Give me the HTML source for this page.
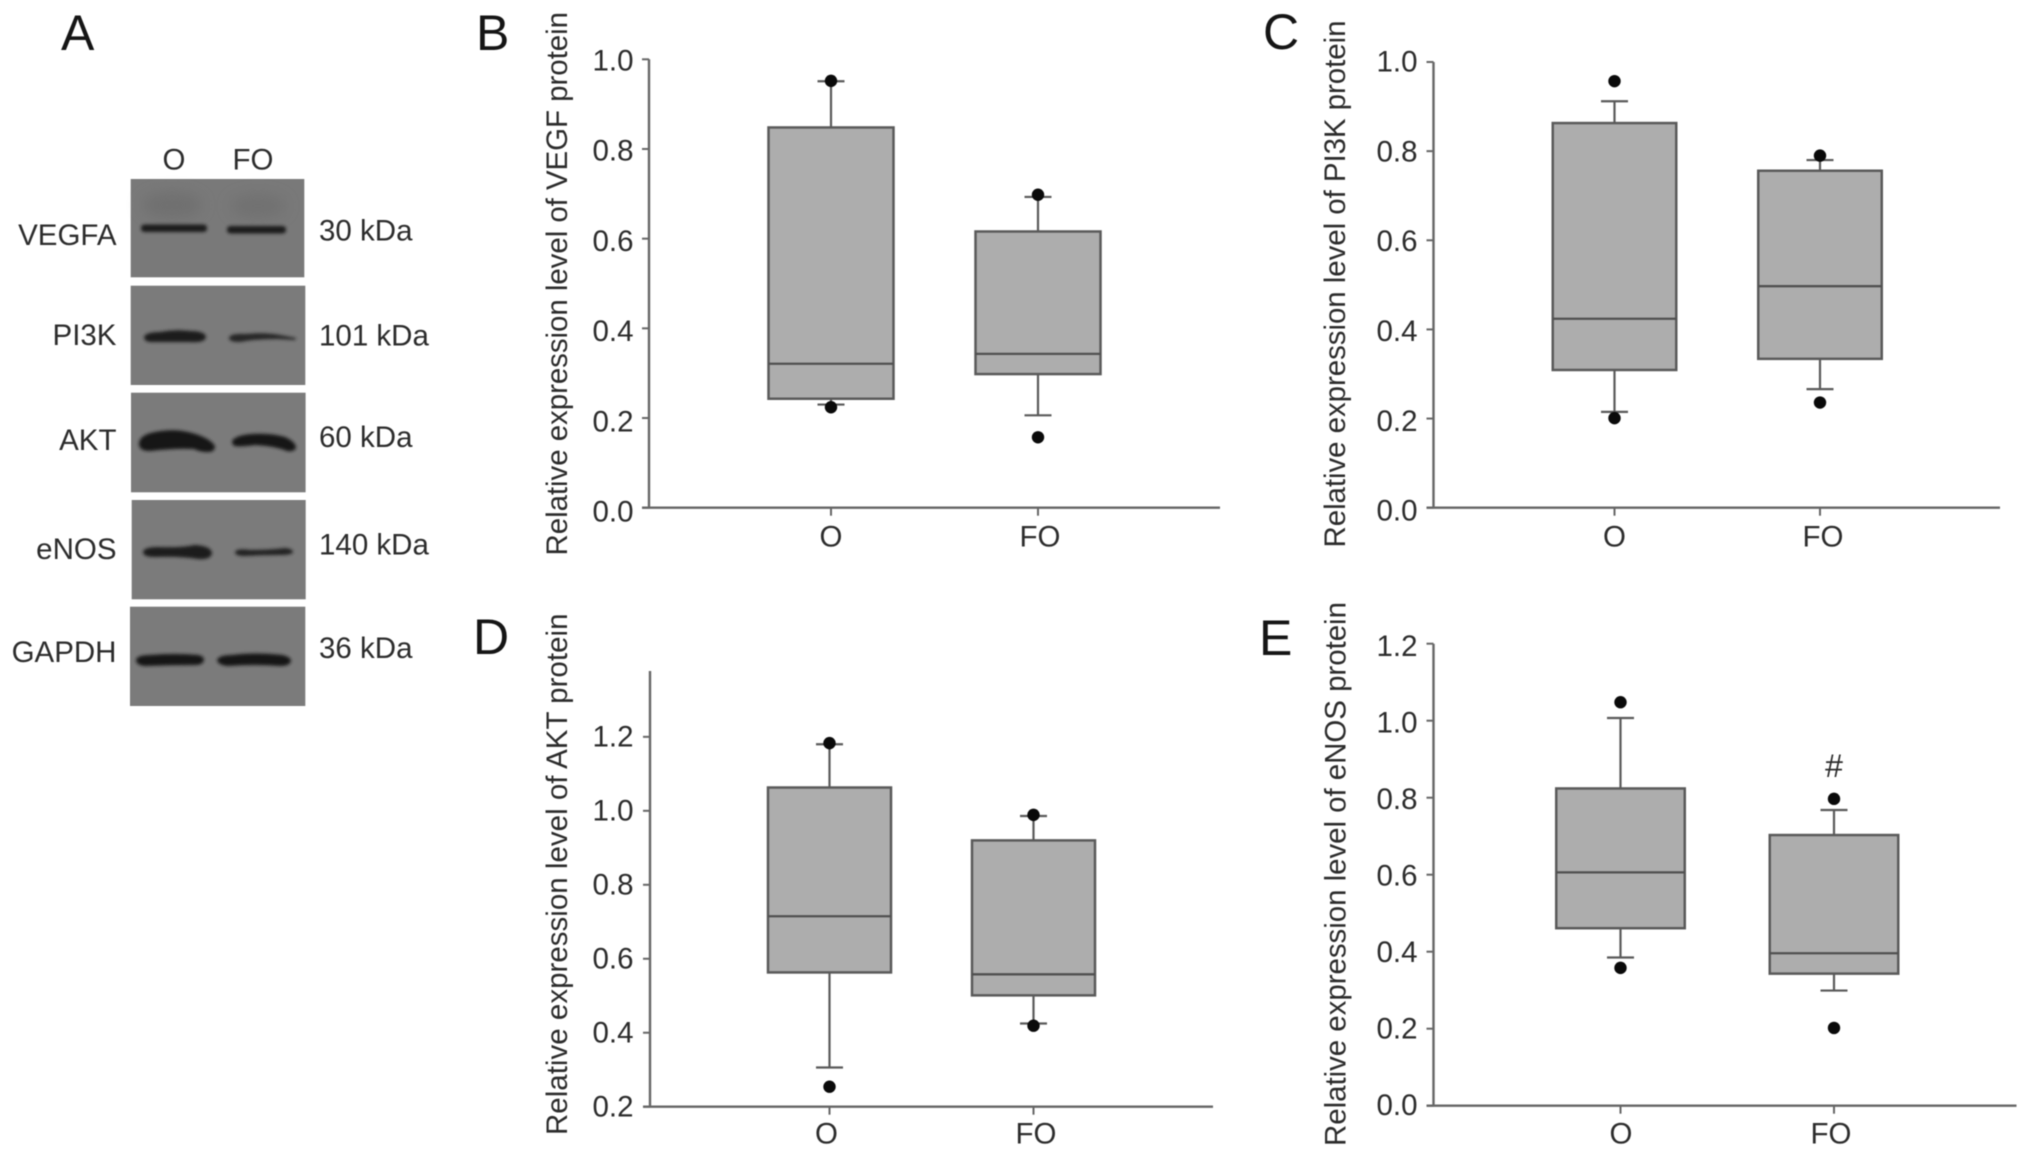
<!DOCTYPE html>
<html lang="en">
<head>
<meta charset="utf-8">
<title>Western blot and relative protein expression box plots</title>
<style>
  html, body { margin: 0; padding: 0; background: #ffffff; width: 2032px; height: 1158px; overflow: hidden; }
  svg { display: block; filter: blur(0.6px); }
  text { font-family: "Liberation Sans", sans-serif; fill: #2c2c2c; }
</style>
</head>
<body>
<svg id="figure" xmlns="http://www.w3.org/2000/svg" width="2032" height="1158" viewBox="0 0 2032 1158">
  <defs>
    <filter id="band-blur" x="-20%" y="-80%" width="140%" height="260%"><feGaussianBlur stdDeviation="1.6"/></filter>
    <filter id="smear-blur" x="-40%" y="-80%" width="180%" height="260%"><feGaussianBlur stdDeviation="7"/></filter>
  </defs>
  <rect x="0" y="0" width="2032" height="1158" fill="#ffffff"/>

  <g id="panel-a">
    <text x="61" y="50" font-size="50" style="fill:#151515">A</text>
    <text x="174" y="169.5" font-size="29.5" text-anchor="middle">O</text>
    <text x="253" y="169.5" font-size="29.5" text-anchor="middle">FO</text>

    <g>
      <rect x="130.7" y="179" width="173.6" height="98.3" fill="#797979"/>
      <ellipse cx="172" cy="205" rx="30" ry="13" fill="#707070" filter="url(#smear-blur)"/>
      <ellipse cx="258" cy="206" rx="28" ry="12" fill="#717171" filter="url(#smear-blur)"/>
      <rect x="141" y="224.5" width="66" height="7.5" rx="3.5" fill="#1a1a1a" filter="url(#band-blur)"/>
      <rect x="227" y="226" width="59" height="7.5" rx="3.5" fill="#1c1c1c" filter="url(#band-blur)"/>
    </g>
    <g>
      <rect x="130.7" y="285.7" width="174.6" height="99.3" fill="#7b7b7b"/>
      <path d="M144 337 Q146 332 160 332 Q175 329 190 331 Q205 331 206 337 Q205 343 190 342 Q165 342 150 342 Q144 341 144 337 Z" fill="#1a1a1a" filter="url(#band-blur)"/>
      <path d="M229 338 Q230 333 245 334 Q265 332 280 335 L296 338 L295 340 L278 339 Q255 339 240 342 Q229 342 229 338 Z" fill="#262626" filter="url(#band-blur)"/>
    </g>
    <g>
      <rect x="131" y="392.7" width="174.6" height="99.6" fill="#7b7b7b"/>
      <path d="M139 444 Q139 435 155 432 Q175 428 192 433 Q210 438 215 446 Q215 452 208 452 Q200 452 194 449 Q175 448 150 451 Q139 451 139 444 Z" fill="#161616" filter="url(#band-blur)"/>
      <path d="M232 441 Q236 435 252 434 Q270 433 285 437 Q296 442 296 448 Q294 452 287 451 Q275 446 255 445 Q240 447 235 446 Q232 445 232 441 Z" fill="#161616" filter="url(#band-blur)"/>
    </g>
    <g>
      <rect x="131.7" y="500" width="174" height="99.3" fill="#7b7b7b"/>
      <path d="M143 552 Q144 547 158 547 Q180 548 195 545 Q211 546 212 553 Q211 560 198 559 Q180 556 155 557 Q143 557 143 552 Z" fill="#1a1a1a" filter="url(#band-blur)"/>
      <path d="M235 552 Q237 548 250 550 Q270 550 285 548 Q293 549 293 552 Q292 555 280 555 Q260 555 245 556 Q235 556 235 552 Z" fill="#222222" filter="url(#band-blur)"/>
    </g>
    <g>
      <rect x="130" y="606.7" width="175.3" height="99.3" fill="#7b7b7b"/>
      <path d="M136 660 Q137 655 150 655 Q175 653 198 655 Q204 656 204 660 Q203 665 195 665 Q170 665 145 666 Q136 665 136 660 Z" fill="#181818" filter="url(#band-blur)"/>
      <path d="M217 660 Q219 655 232 655 Q255 652 282 655 Q291 657 291 661 Q290 666 280 666 Q255 664 228 666 Q218 665 217 660 Z" fill="#181818" filter="url(#band-blur)"/>
    </g>

    <text x="116.5" y="245" font-size="29.5" text-anchor="end">VEGFA</text>
    <text x="116.5" y="345" font-size="29.5" text-anchor="end">PI3K</text>
    <text x="116.5" y="450" font-size="29.5" text-anchor="end">AKT</text>
    <text x="116.5" y="559" font-size="29.5" text-anchor="end">eNOS</text>
    <text x="116.5" y="662" font-size="29.5" text-anchor="end">GAPDH</text>

    <text x="319" y="240.5" font-size="29.5">30 kDa</text>
    <text x="319" y="345.5" font-size="29.5">101 kDa</text>
    <text x="319" y="447" font-size="29.5">60 kDa</text>
    <text x="319" y="554.5" font-size="29.5">140 kDa</text>
    <text x="319" y="658" font-size="29.5">36 kDa</text>
  </g>
</svg>

<script>
// Shared category labels
const categories = ['O', 'FO'];

// Panel B: VEGF
const bTicks = [0.0, 0.2, 0.4, 0.6, 0.8, 1.0];
const bQ1 = [0.243, 0.298];
const bMedian = [0.321, 0.343];
const bQ3 = [0.848, 0.616];
const bWhiskerLow = [0.230, 0.206];
const bWhiskerHigh = [0.951, 0.693];
const bOutlierLow = [0.224, 0.157];
const bOutlierHigh = [0.952, 0.698];

// Panel C: PI3K
const cTicks = [0.0, 0.2, 0.4, 0.6, 0.8, 1.0];
const cQ1 = [0.309, 0.334];
const cMedian = [0.424, 0.497];
const cQ3 = [0.863, 0.756];
const cWhiskerLow = [0.215, 0.266];
const cWhiskerHigh = [0.912, 0.780];
const cOutlierLow = [0.201, 0.236];
const cOutlierHigh = [0.957, 0.790];

// Panel D: AKT
const dTicks = [0.2, 0.4, 0.6, 0.8, 1.0, 1.2];
const dQ1 = [0.563, 0.501];
const dMedian = [0.715, 0.558];
const dQ3 = [1.063, 0.920];
const dWhiskerLow = [0.306, 0.425];
const dWhiskerHigh = [1.180, 0.986];
const dOutlierLow = [0.254, 0.419];
const dOutlierHigh = [1.183, 0.989];

// Panel E: eNOS
const eTicks = [0.0, 0.2, 0.4, 0.6, 0.8, 1.0, 1.2];
const eQ1 = [0.461, 0.343];
const eMedian = [0.606, 0.396];
const eQ3 = [0.824, 0.703];
const eWhiskerLow = [0.385, 0.299];
const eWhiskerHigh = [1.007, 0.768];
const eOutlierLow = [0.358, 0.202];
const eOutlierHigh = [1.048, 0.797];

const NS = 'http://www.w3.org/2000/svg';
const figure = document.getElementById('figure');

function make(tag, attrs, parent) {
  const node = document.createElementNS(NS, tag);
  for (const key in attrs) node.setAttribute(key, attrs[key]);
  parent.appendChild(node);
  return node;
}

function drawPanel(p) {
  const yScale = v => p.yBottom - (v - p.domainMin) / (p.domainMax - p.domainMin) * (p.yBottom - p.yTop);
  const xScale = i => p.xFirst + i * p.xStep;
  const lineColor = '#5a5a5a';

  const group = make('g', {}, figure);
  
  

  const letter = make('text', { x: p.letterX, y: p.letterY, 'font-size': 50, style: 'fill:#151515' }, group);
  letter.textContent = p.letter;
  
  

  const title = make('text', {
    x: p.titleX, y: p.titleBottom, 'font-size': 29.5, textLength: p.titleLength, lengthAdjust: 'spacing',
    transform: 'rotate(-90 ' + p.titleX + ' ' + p.titleBottom + ')'
  }, group);
  title.textContent = p.title;
  
  

  const yAxis = make('line', { x1: p.axisX, x2: p.axisX, y1: p.yTop, y2: p.yBottom, stroke: '#666666', 'stroke-width': 2.4 }, group);
  
  

  const xAxis = make('line', { x1: p.axisX - 7, x2: p.axisEnd, y1: p.yBottom, y2: p.yBottom, stroke: '#666666', 'stroke-width': 2.4 }, group);
  
  

  p.ticks.forEach(v => {
    const y = yScale(v);
    const tick = make('line', { x1: p.axisX - 7, x2: p.axisX, y1: y, y2: y, stroke: '#666666', 'stroke-width': 2 }, group);
    
    

    // The labels in the source figure drift slightly relative to their ticks along the axis.
    const along = (p.yBottom - y) / (p.yBottom - p.yTop);
    const labelOffset = p.labelOffsetBottom + (p.labelOffsetTop - p.labelOffsetBottom) * along;
    const label = make('text', { x: p.tickLabelRight, y: y + labelOffset, 'font-size': 29.5, 'text-anchor': 'end' }, group);
    label.textContent = v.toFixed(1);
    
    
  });

  categories.forEach((cat, i) => {
    const x = xScale(i);
    const slug = cat.toLowerCase();

    const tick = make('line', { x1: x, x2: x, y1: p.yBottom, y2: p.yBottom + 8, stroke: '#666666', 'stroke-width': 2 }, group);
    
    

    const label = make('text', { x: x + p.labelDx[i], y: p.categoryBaseline, 'font-size': 29.5, 'text-anchor': 'middle' }, group);
    label.textContent = cat;
    
    

    const whiskerLine = make('line', { x1: x, x2: x, y1: yScale(p.whiskerHigh[i]), y2: yScale(p.whiskerLow[i]), stroke: lineColor, 'stroke-width': 2.2 }, group);
    
    

    const capHigh = make('line', { x1: x - 13.5, x2: x + 13.5, y1: yScale(p.whiskerHigh[i]), y2: yScale(p.whiskerHigh[i]), stroke: lineColor, 'stroke-width': 2.2 }, group);
    
    

    const capLow = make('line', { x1: x - 13.5, x2: x + 13.5, y1: yScale(p.whiskerLow[i]), y2: yScale(p.whiskerLow[i]), stroke: lineColor, 'stroke-width': 2.2 }, group);
    
    

    const box = make('rect', {
      x: x - p.boxWidth / 2, y: yScale(p.q3[i]), width: p.boxWidth, height: yScale(p.q1[i]) - yScale(p.q3[i]),
      fill: '#adadad', stroke: lineColor, 'stroke-width': 2.5
    }, group);
    
    

    const median = make('line', { x1: x - p.boxWidth / 2, x2: x + p.boxWidth / 2, y1: yScale(p.median[i]), y2: yScale(p.median[i]), stroke: '#505050', 'stroke-width': 2.3 }, group);
    
    

    const outHigh = make('circle', { cx: x, cy: yScale(p.outlierHigh[i]), r: 6.2, fill: '#0a0a0a' }, group);
    
    

    const outLow = make('circle', { cx: x, cy: yScale(p.outlierLow[i]), r: 6.2, fill: '#0a0a0a' }, group);
    
    
  });

  return { group, xScale, yScale };
}

drawPanel({
  key: 'b', letter: 'B', letterX: 476, letterY: 50,
  title: 'Relative expression level of VEGF protein', titleX: 567, titleBottom: 555.5, titleLength: 543.5,
  axisX: 649, axisEnd: 1220, yTop: 59.3, yBottom: 507.7, domainMin: 0, domainMax: 1,
  xFirst: 831, xStep: 207, boxWidth: 125, tickLabelRight: 633.5, categoryBaseline: 546.5, labelDx: [0, 2],
  labelOffsetBottom: 14, labelOffsetTop: 11,
  ticks: bTicks, q1: bQ1, median: bMedian, q3: bQ3,
  whiskerLow: bWhiskerLow, whiskerHigh: bWhiskerHigh, outlierLow: bOutlierLow, outlierHigh: bOutlierHigh
});

drawPanel({
  key: 'c', letter: 'C', letterX: 1263, letterY: 49,
  title: 'Relative expression level of PI3K protein', titleX: 1345, titleBottom: 547.5, titleLength: 527,
  axisX: 1433.5, axisEnd: 2000, yTop: 62, yBottom: 507.7, domainMin: 0, domainMax: 1,
  xFirst: 1614.5, xStep: 205.5, boxWidth: 123.5, tickLabelRight: 1417.5, categoryBaseline: 546.5, labelDx: [0, 3],
  labelOffsetBottom: 13, labelOffsetTop: 9.5,
  ticks: cTicks, q1: cQ1, median: cMedian, q3: cQ3,
  whiskerLow: cWhiskerLow, whiskerHigh: cWhiskerHigh, outlierLow: cOutlierLow, outlierHigh: cOutlierHigh
});

drawPanel({
  key: 'd', letter: 'D', letterX: 473, letterY: 654,
  title: 'Relative expression level of AKT protein', titleX: 567, titleBottom: 1135, titleLength: 521.5,
  axisX: 650, axisEnd: 1213, yTop: 671, yBottom: 1106.7, domainMin: 0.2, domainMax: 1.378,
  xFirst: 829.5, xStep: 204, boxWidth: 123, tickLabelRight: 633.5, categoryBaseline: 1143.5, labelDx: [-3, 2.5],
  labelOffsetBottom: 9.7, labelOffsetTop: 9.5,
  ticks: dTicks, q1: dQ1, median: dMedian, q3: dQ3,
  whiskerLow: dWhiskerLow, whiskerHigh: dWhiskerHigh, outlierLow: dOutlierLow, outlierHigh: dOutlierHigh
});

const panelE = drawPanel({
  key: 'e', letter: 'E', letterX: 1259, letterY: 655,
  title: 'Relative expression level of eNOS protein', titleX: 1345.5, titleBottom: 1146, titleLength: 544,
  axisX: 1433.5, axisEnd: 2016.5, yTop: 643.7, yBottom: 1105.7, domainMin: 0, domainMax: 1.2,
  xFirst: 1620.5, xStep: 213.5, boxWidth: 128.5, tickLabelRight: 1417.5, categoryBaseline: 1143.5, labelDx: [0.5, -3],
  labelOffsetBottom: 9.3, labelOffsetTop: 12.3,
  ticks: eTicks, q1: eQ1, median: eMedian, q3: eQ3,
  whiskerLow: eWhiskerLow, whiskerHigh: eWhiskerHigh, outlierLow: eOutlierLow, outlierHigh: eOutlierHigh
});

const hashMark = make('text', { x: panelE.xScale(1), y: panelE.yScale(eOutlierHigh[1]) - 22, 'font-size': 32, 'text-anchor': 'middle' }, panelE.group);
hashMark.textContent = '#';


</script>
</body>
</html>
